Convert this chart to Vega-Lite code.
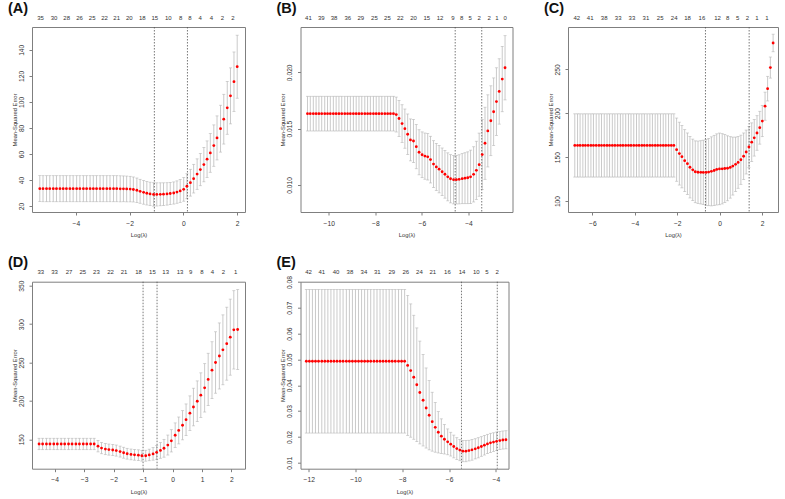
{
  "$schema": "https://vega.github.io/schema/vega-lite/v6.json",
  "background": "white",
  "padding": {"left": 7, "top": 0, "right": 0, "bottom": 0},
  "autosize": {"type": "pad"},
  "config": {
    "font": "Liberation Sans",
    "view": {"stroke": "#7f7f7f", "strokeWidth": 1},
    "axis": {"grid": false, "domain": false, "tickColor": "#7f7f7f", "tickSize": 3, "tickWidth": 1, "labelFontSize": 6.7, "labelColor": "#333333", "titleFontSize": 5.8, "titleFontWeight": "normal", "titleColor": "#333333", "labelOverlap": false, "labelFlush": false},
    "axisX": {"labelPadding": 5, "titlePadding": 5},
    "axisY": {"labelAngle": 270, "labelAlign": "center", "labelBaseline": "bottom", "labelPadding": 5, "titlePadding": 1},
    "title": {"fontSize": 14.5, "fontWeight": "bold", "anchor": "start", "frame": "bounds", "color": "#111111", "offset": -2, "dx": -3}
  },
  "datasets": {
    "A": [
      {"x":-5.34,"m":33.3,"s":10},{"x":-5.22,"m":33.3,"s":10},{"x":-5.09,"m":33.3,"s":10},{"x":-4.97,"m":33.3,"s":10},{"x":-4.84,"m":33.3,"s":10},{"x":-4.72,"m":33.3,"s":10},{"x":-4.59,"m":33.3,"s":10},{"x":-4.47,"m":33.3,"s":10},{"x":-4.35,"m":33.3,"s":10},{"x":-4.22,"m":33.3,"s":10},{"x":-4.10,"m":33.3,"s":10},{"x":-3.97,"m":33.3,"s":10},{"x":-3.85,"m":33.3,"s":10},{"x":-3.72,"m":33.3,"s":10},{"x":-3.60,"m":33.3,"s":10},{"x":-3.47,"m":33.3,"s":10},{"x":-3.35,"m":33.3,"s":10},{"x":-3.23,"m":33.3,"s":10},{"x":-3.10,"m":33.3,"s":10},{"x":-2.98,"m":33.3,"s":10},{"x":-2.85,"m":33.3,"s":10},{"x":-2.73,"m":33.3,"s":10},{"x":-2.60,"m":33.3,"s":10},{"x":-2.48,"m":33.3,"s":10},
      {"x":-2.35,"m":33.2,"s":10},{"x":-2.23,"m":33.2,"s":9.9},{"x":-2.11,"m":33.1,"s":9.9},{"x":-1.98,"m":33.0,"s":9.8},{"x":-1.86,"m":32.7,"s":9.6},{"x":-1.73,"m":32.1,"s":9.4},{"x":-1.61,"m":31.3,"s":9.2},{"x":-1.48,"m":30.5,"s":9.1},{"x":-1.36,"m":29.8,"s":9.0},{"x":-1.24,"m":29.3,"s":9.0},{"x":-1.11,"m":28.9,"s":9.0},{"x":-0.99,"m":28.9,"s":8.9},{"x":-0.86,"m":29.0,"s":8.8},{"x":-0.74,"m":29.1,"s":8.7},{"x":-0.61,"m":29.3,"s":8.6},{"x":-0.49,"m":29.6,"s":8.5},{"x":-0.36,"m":30.0,"s":8.5},{"x":-0.24,"m":30.7,"s":8.6},{"x":-0.12,"m":31.6,"s":8.8},{"x":0.01,"m":32.8,"s":9.1},
      {"x":0.13,"m":35.2,"s":9.6},{"x":0.26,"m":37.9,"s":10.3},{"x":0.38,"m":41.0,"s":11.0},{"x":0.51,"m":44.5,"s":11.7},{"x":0.63,"m":48.0,"s":12.4},{"x":0.76,"m":51.8,"s":13.2},{"x":0.88,"m":56.0,"s":14.0},{"x":1.00,"m":60.8,"s":14.9},{"x":1.13,"m":66.4,"s":15.9},{"x":1.25,"m":72.3,"s":16.9},{"x":1.38,"m":79.4,"s":18.0},{"x":1.50,"m":86.7,"s":19.1},{"x":1.63,"m":95.4,"s":20.3},{"x":1.75,"m":104.6,"s":21.5},{"x":1.88,"m":115.5,"s":22.8},{"x":2.00,"m":127.0,"s":24.2}
    ],
    "B": [
      {"x":-10.91,"m":0.01633,"s":0.00154},{"x":-10.79,"m":0.01633,"s":0.00154},{"x":-10.66,"m":0.01633,"s":0.00154},{"x":-10.54,"m":0.01633,"s":0.00154},{"x":-10.42,"m":0.01633,"s":0.00154},{"x":-10.30,"m":0.01633,"s":0.00154},{"x":-10.17,"m":0.01633,"s":0.00154},{"x":-10.05,"m":0.01633,"s":0.00154},{"x":-9.93,"m":0.01633,"s":0.00154},{"x":-9.80,"m":0.01633,"s":0.00154},{"x":-9.68,"m":0.01633,"s":0.00154},{"x":-9.56,"m":0.01633,"s":0.00154},{"x":-9.44,"m":0.01633,"s":0.00154},{"x":-9.31,"m":0.01633,"s":0.00154},{"x":-9.19,"m":0.01633,"s":0.00154},{"x":-9.07,"m":0.01633,"s":0.00154},{"x":-8.94,"m":0.01633,"s":0.00154},{"x":-8.82,"m":0.01633,"s":0.00154},{"x":-8.70,"m":0.01633,"s":0.00154},{"x":-8.58,"m":0.01633,"s":0.00154},{"x":-8.45,"m":0.01633,"s":0.00154},{"x":-8.33,"m":0.01633,"s":0.00154},{"x":-8.21,"m":0.01633,"s":0.00154},{"x":-8.08,"m":0.01633,"s":0.00154},{"x":-7.96,"m":0.01633,"s":0.00154},{"x":-7.84,"m":0.01633,"s":0.00154},{"x":-7.72,"m":0.01633,"s":0.00154},{"x":-7.59,"m":0.01633,"s":0.00154},{"x":-7.47,"m":0.01633,"s":0.00154},{"x":-7.35,"m":0.01633,"s":0.00154},{"x":-7.22,"m":0.01633,"s":0.00154},
      {"x":-7.10,"m":0.01625,"s":0.00155},{"x":-6.98,"m":0.01590,"s":0.00160},{"x":-6.85,"m":0.01545,"s":0.00167},{"x":-6.73,"m":0.01500,"s":0.00174},{"x":-6.61,"m":0.01450,"s":0.00180},{"x":-6.49,"m":0.01400,"s":0.00186},{"x":-6.36,"m":0.01390,"s":0.00191},{"x":-6.24,"m":0.01340,"s":0.00196},{"x":-6.12,"m":0.01290,"s":0.00200},{"x":-5.99,"m":0.01268,"s":0.00203},{"x":-5.87,"m":0.01256,"s":0.00205},{"x":-5.75,"m":0.01250,"s":0.00206},{"x":-5.63,"m":0.01225,"s":0.00207},{"x":-5.50,"m":0.01185,"s":0.00208},{"x":-5.38,"m":0.01160,"s":0.00209},{"x":-5.26,"m":0.01140,"s":0.00210},{"x":-5.13,"m":0.01117,"s":0.00211},{"x":-5.01,"m":0.01095,"s":0.00212},{"x":-4.89,"m":0.01072,"s":0.00213},{"x":-4.77,"m":0.01055,"s":0.00214},{"x":-4.64,"m":0.01047,"s":0.00215},{"x":-4.52,"m":0.01047,"s":0.00215},{"x":-4.40,"m":0.01050,"s":0.00218},{"x":-4.27,"m":0.01056,"s":0.00222},{"x":-4.15,"m":0.01060,"s":0.00226},{"x":-4.03,"m":0.01064,"s":0.00230},{"x":-3.91,"m":0.01072,"s":0.00237},{"x":-3.78,"m":0.01094,"s":0.00245},{"x":-3.66,"m":0.01130,"s":0.00258},{"x":-3.54,"m":0.01180,"s":0.00280},{"x":-3.41,"m":0.01270,"s":0.00310},{"x":-3.29,"m":0.01370,"s":0.00320},{"x":-3.17,"m":0.01480,"s":0.00320},{"x":-3.04,"m":0.01570,"s":0.00310},{"x":-2.92,"m":0.01650,"s":0.00300},{"x":-2.80,"m":0.01740,"s":0.00300},{"x":-2.68,"m":0.01830,"s":0.00290},{"x":-2.55,"m":0.01940,"s":0.00290},{"x":-2.43,"m":0.02040,"s":0.00285}
    ],
    "C": [
      {"x":-6.83,"m":163.3,"s":36},{"x":-6.70,"m":163.3,"s":36},{"x":-6.58,"m":163.3,"s":36},{"x":-6.45,"m":163.3,"s":36},{"x":-6.33,"m":163.3,"s":36},{"x":-6.20,"m":163.3,"s":36},{"x":-6.07,"m":163.3,"s":36},{"x":-5.95,"m":163.3,"s":36},{"x":-5.82,"m":163.3,"s":36},{"x":-5.69,"m":163.3,"s":36},{"x":-5.57,"m":163.3,"s":36},{"x":-5.44,"m":163.3,"s":36},{"x":-5.31,"m":163.3,"s":36},{"x":-5.19,"m":163.3,"s":36},{"x":-5.06,"m":163.3,"s":36},{"x":-4.94,"m":163.3,"s":36},{"x":-4.81,"m":163.3,"s":36},{"x":-4.68,"m":163.3,"s":36},{"x":-4.56,"m":163.3,"s":36},{"x":-4.43,"m":163.3,"s":36},{"x":-4.30,"m":163.3,"s":36},{"x":-4.18,"m":163.3,"s":36},{"x":-4.05,"m":163.3,"s":36},{"x":-3.92,"m":163.3,"s":36},{"x":-3.80,"m":163.3,"s":36},{"x":-3.67,"m":163.3,"s":36},{"x":-3.55,"m":163.3,"s":36},{"x":-3.42,"m":163.3,"s":36},{"x":-3.29,"m":163.3,"s":36},{"x":-3.17,"m":163.3,"s":36},{"x":-3.04,"m":163.3,"s":36},{"x":-2.92,"m":163.3,"s":36},{"x":-2.79,"m":163.3,"s":36},{"x":-2.66,"m":163.3,"s":36},{"x":-2.54,"m":163.3,"s":36},{"x":-2.41,"m":163.3,"s":36},{"x":-2.28,"m":163.3,"s":36},{"x":-2.16,"m":163.3,"s":36},
      {"x":-2.03,"m":158.5,"s":36},{"x":-1.90,"m":154.0,"s":35.8},{"x":-1.78,"m":150.5,"s":35.5},{"x":-1.65,"m":146.0,"s":35.3},{"x":-1.52,"m":142.5,"s":35},{"x":-1.40,"m":138.5,"s":35},{"x":-1.27,"m":135.5,"s":35},{"x":-1.15,"m":133.3,"s":35.2},{"x":-1.02,"m":132.8,"s":35.5},{"x":-0.89,"m":132.7,"s":36},{"x":-0.77,"m":132.6,"s":36.7},{"x":-0.64,"m":132.6,"s":37.5},{"x":-0.52,"m":133.0,"s":38.3},{"x":-0.39,"m":133.8,"s":39.3},{"x":-0.26,"m":134.8,"s":40},{"x":-0.14,"m":136.0,"s":40.5},{"x":-0.01,"m":136.6,"s":40.8},{"x":0.12,"m":136.7,"s":40},{"x":0.24,"m":137.0,"s":38.7},{"x":0.37,"m":137.3,"s":37},{"x":0.50,"m":138.3,"s":35},{"x":0.62,"m":139.8,"s":33},{"x":0.75,"m":141.8,"s":31},{"x":0.87,"m":144.0,"s":29.5},{"x":1.00,"m":147.0,"s":28},{"x":1.13,"m":151.0,"s":26.5},{"x":1.25,"m":155.8,"s":25},{"x":1.38,"m":161.5,"s":23.5},{"x":1.51,"m":167.0,"s":22},{"x":1.63,"m":172.0,"s":20.8},{"x":1.76,"m":177.5,"s":19.7},{"x":1.89,"m":183.5,"s":18.7},{"x":2.01,"m":191.0,"s":17.7},{"x":2.14,"m":208.0,"s":16},{"x":2.26,"m":228.0,"s":14},{"x":2.39,"m":252.0,"s":12},{"x":2.52,"m":280.0,"s":10}
    ],
    "D": [
      {"x":-4.53,"m":143.9,"s":7.4},{"x":-4.41,"m":143.9,"s":7.4},{"x":-4.28,"m":143.9,"s":7.4},{"x":-4.16,"m":143.9,"s":7.4},{"x":-4.03,"m":143.9,"s":7.4},{"x":-3.91,"m":143.9,"s":7.4},{"x":-3.78,"m":143.9,"s":7.4},{"x":-3.66,"m":143.9,"s":7.4},{"x":-3.53,"m":143.9,"s":7.4},{"x":-3.41,"m":143.9,"s":7.4},{"x":-3.28,"m":143.9,"s":7.4},{"x":-3.16,"m":143.9,"s":7.4},{"x":-3.03,"m":143.9,"s":7.4},{"x":-2.91,"m":143.9,"s":7.4},{"x":-2.78,"m":143.9,"s":7.4},{"x":-2.66,"m":143.9,"s":7.4},
      {"x":-2.53,"m":141.0,"s":7.4},{"x":-2.41,"m":138.5,"s":7.3},{"x":-2.28,"m":137.3,"s":7.3},{"x":-2.16,"m":136.6,"s":7.2},{"x":-2.03,"m":136.0,"s":7.2},{"x":-1.91,"m":135.3,"s":7.2},{"x":-1.78,"m":134.0,"s":7.1},{"x":-1.66,"m":132.5,"s":7.1},{"x":-1.54,"m":131.2,"s":7.0},{"x":-1.41,"m":130.3,"s":7.0},{"x":-1.29,"m":129.8,"s":7.0},{"x":-1.16,"m":129.3,"s":7.0},{"x":-1.04,"m":128.6,"s":7.0},{"x":-0.91,"m":128.6,"s":7.1},{"x":-0.79,"m":129.6,"s":7.5},{"x":-0.66,"m":131.0,"s":8.2},{"x":-0.54,"m":133.0,"s":9.0},{"x":-0.41,"m":135.5,"s":10.2},{"x":-0.29,"m":138.3,"s":11.6},{"x":-0.16,"m":142.5,"s":13.0},{"x":-0.04,"m":148.0,"s":14.5},{"x":0.09,"m":155.3,"s":16.0},{"x":0.21,"m":161.5,"s":17.5},{"x":0.34,"m":168.3,"s":19.0},{"x":0.46,"m":175.5,"s":20.5},{"x":0.59,"m":184.0,"s":22.5},{"x":0.71,"m":192.0,"s":24.5},{"x":0.84,"m":199.5,"s":26.5},{"x":0.96,"m":207.5,"s":29.0},{"x":1.09,"m":217.0,"s":31.5},{"x":1.21,"m":228.0,"s":34.0},{"x":1.34,"m":240.0,"s":37.0},{"x":1.46,"m":250.0,"s":40.0},{"x":1.59,"m":258.5,"s":43.0},{"x":1.71,"m":266.5,"s":45.5},{"x":1.84,"m":274.5,"s":47.5},{"x":1.96,"m":283.0,"s":49.5},{"x":2.08,"m":292.5,"s":51.0},{"x":2.21,"m":293.0,"s":52.0}
    ],
    "E": [
      {"x":-12.10,"m":0.0493,"s":0.0278},{"x":-11.97,"m":0.0493,"s":0.0278},{"x":-11.84,"m":0.0493,"s":0.0278},{"x":-11.71,"m":0.0493,"s":0.0278},{"x":-11.58,"m":0.0493,"s":0.0278},{"x":-11.44,"m":0.0493,"s":0.0278},{"x":-11.31,"m":0.0493,"s":0.0278},{"x":-11.18,"m":0.0493,"s":0.0278},{"x":-11.05,"m":0.0493,"s":0.0278},{"x":-10.92,"m":0.0493,"s":0.0278},{"x":-10.79,"m":0.0493,"s":0.0278},{"x":-10.66,"m":0.0493,"s":0.0278},{"x":-10.53,"m":0.0493,"s":0.0278},{"x":-10.39,"m":0.0493,"s":0.0278},{"x":-10.26,"m":0.0493,"s":0.0278},{"x":-10.13,"m":0.0493,"s":0.0278},{"x":-10.00,"m":0.0493,"s":0.0278},{"x":-9.87,"m":0.0493,"s":0.0278},{"x":-9.74,"m":0.0493,"s":0.0278},{"x":-9.61,"m":0.0493,"s":0.0278},{"x":-9.48,"m":0.0493,"s":0.0278},{"x":-9.35,"m":0.0493,"s":0.0278},{"x":-9.21,"m":0.0493,"s":0.0278},{"x":-9.08,"m":0.0493,"s":0.0278},{"x":-8.95,"m":0.0493,"s":0.0278},{"x":-8.82,"m":0.0493,"s":0.0278},{"x":-8.69,"m":0.0493,"s":0.0278},{"x":-8.56,"m":0.0493,"s":0.0278},{"x":-8.43,"m":0.0493,"s":0.0278},{"x":-8.30,"m":0.0493,"s":0.0278},{"x":-8.16,"m":0.0493,"s":0.0278},{"x":-8.03,"m":0.0493,"s":0.0278},{"x":-7.90,"m":0.0493,"s":0.0278},
      {"x":-7.77,"m":0.0477,"s":0.0271},{"x":-7.64,"m":0.0457,"s":0.0258},{"x":-7.51,"m":0.0431,"s":0.0240},{"x":-7.38,"m":0.0402,"s":0.0220},{"x":-7.25,"m":0.0372,"s":0.0199},{"x":-7.11,"m":0.0342,"s":0.0177},{"x":-6.98,"m":0.0312,"s":0.0155},{"x":-6.85,"m":0.0284,"s":0.0134},{"x":-6.72,"m":0.0259,"s":0.0114},{"x":-6.59,"m":0.0237,"s":0.0096},{"x":-6.46,"m":0.0218,"s":0.0080},{"x":-6.33,"m":0.0203,"s":0.0067},{"x":-6.20,"m":0.0191,"s":0.0057},{"x":-6.06,"m":0.0181,"s":0.0050},{"x":-5.93,"m":0.0172,"s":0.0046},{"x":-5.80,"m":0.0163,"s":0.0044},{"x":-5.67,"m":0.0155,"s":0.0042},{"x":-5.54,"m":0.0149,"s":0.0041},{"x":-5.41,"m":0.0145,"s":0.0041},{"x":-5.28,"m":0.0145,"s":0.0041},{"x":-5.15,"m":0.0147,"s":0.0040},{"x":-5.02,"m":0.0150,"s":0.0040},{"x":-4.88,"m":0.0154,"s":0.0039},{"x":-4.75,"m":0.0158,"s":0.0039},{"x":-4.62,"m":0.0163,"s":0.0038},{"x":-4.49,"m":0.0168,"s":0.0038},{"x":-4.36,"m":0.0173,"s":0.0037},{"x":-4.23,"m":0.0177,"s":0.0037},{"x":-4.10,"m":0.0180,"s":0.0036},{"x":-3.97,"m":0.0183,"s":0.0036},{"x":-3.83,"m":0.0186,"s":0.0035},{"x":-3.70,"m":0.0188,"s":0.0035},{"x":-3.57,"m":0.0189,"s":0.0035}
    ],
    "topA": [{"x":-5.33,"nz":"35"},{"x":-4.83,"nz":"30"},{"x":-4.36,"nz":"28"},{"x":-3.88,"nz":"26"},{"x":-3.41,"nz":"25"},{"x":-2.95,"nz":"22"},{"x":-2.50,"nz":"21"},{"x":-2.03,"nz":"20"},{"x":-1.55,"nz":"18"},{"x":-1.08,"nz":"15"},{"x":-0.58,"nz":"10"},{"x":-0.12,"nz":"8"},{"x":0.22,"nz":"8"},{"x":0.60,"nz":"4"},{"x":1.02,"nz":"4"},{"x":1.43,"nz":"2"},{"x":1.82,"nz":"2"}],
    "topB": [{"x":-10.89,"nz":"41"},{"x":-10.34,"nz":"39"},{"x":-9.79,"nz":"38"},{"x":-9.20,"nz":"36"},{"x":-8.64,"nz":"29"},{"x":-8.06,"nz":"25"},{"x":-7.50,"nz":"25"},{"x":-6.95,"nz":"22"},{"x":-6.38,"nz":"20"},{"x":-5.81,"nz":"15"},{"x":-5.24,"nz":"12"},{"x":-4.69,"nz":"9"},{"x":-4.31,"nz":"8"},{"x":-3.95,"nz":"5"},{"x":-3.56,"nz":"2"},{"x":-3.13,"nz":"2"},{"x":-2.80,"nz":"1"},{"x":-2.45,"nz":"0"}],
    "topC": [{"x":-6.76,"nz":"42"},{"x":-6.13,"nz":"41"},{"x":-5.47,"nz":"38"},{"x":-4.81,"nz":"33"},{"x":-4.16,"nz":"33"},{"x":-3.50,"nz":"31"},{"x":-2.83,"nz":"25"},{"x":-2.17,"nz":"24"},{"x":-1.54,"nz":"18"},{"x":-0.86,"nz":"16"},{"x":-0.12,"nz":"12"},{"x":0.35,"nz":"8"},{"x":0.82,"nz":"5"},{"x":1.29,"nz":"2"},{"x":1.73,"nz":"1"},{"x":2.20,"nz":"1"}],
    "topD": [{"x":-4.49,"nz":"33"},{"x":-4.02,"nz":"33"},{"x":-3.53,"nz":"27"},{"x":-3.06,"nz":"25"},{"x":-2.60,"nz":"23"},{"x":-2.12,"nz":"22"},{"x":-1.66,"nz":"21"},{"x":-1.17,"nz":"18"},{"x":-0.70,"nz":"15"},{"x":-0.25,"nz":"13"},{"x":0.24,"nz":"13"},{"x":0.60,"nz":"9"},{"x":0.98,"nz":"8"},{"x":1.34,"nz":"4"},{"x":1.71,"nz":"2"},{"x":2.13,"nz":"1"}],
    "topE": [{"x":-12.03,"nz":"42"},{"x":-11.46,"nz":"41"},{"x":-10.85,"nz":"40"},{"x":-10.26,"nz":"38"},{"x":-9.66,"nz":"34"},{"x":-9.09,"nz":"31"},{"x":-8.47,"nz":"29"},{"x":-7.87,"nz":"26"},{"x":-7.29,"nz":"24"},{"x":-6.72,"nz":"21"},{"x":-6.09,"nz":"16"},{"x":-5.47,"nz":"14"},{"x":-4.86,"nz":"10"},{"x":-4.40,"nz":"5"},{"x":-3.97,"nz":"2"}]
  },
  "concat": [
    {
      "title": {"text": "(A)"},
      "width": 213, "height": 185,
      "data": {"name": "A"},
      "layer": [
        {"mark": {"type": "errorbar", "color": "#b3b3b3", "ticks": {"size": 3, "thickness": 0.8}, "rule": {"strokeWidth": 0.7}},
         "encoding": {
           "x": {"field": "x", "type": "quantitative", "scale": {"domain": [-5.63, 2.29], "nice": false, "zero": false}, "axis": {"orient": "bottom", "values": [-4, -2, 0, 2], "title": "Log(λ)"}},
           "y": {"field": "m", "type": "quantitative", "scale": {"domain": [15.4, 157.5], "nice": false, "zero": false}, "axis": {"orient": "left", "values": [20, 40, 60, 80, 100, 120, 140], "title": "Mean-Squared Error"}},
           "yError": {"field": "s"}}},
        {"data": {"values": [{"v": -1.08}, {"v": 0.15}]}, "mark": {"type": "rule", "color": "#555555", "strokeWidth": 0.8, "strokeDash": [1.5, 1.5]},
         "encoding": {"x": {"field": "v", "type": "quantitative", "axis": null}}},
        {"mark": {"type": "circle", "color": "#ff0000", "size": 8, "opacity": 1},
         "encoding": {"x": {"field": "x", "type": "quantitative", "axis": null}, "y": {"field": "m", "type": "quantitative", "axis": {"orient": "left", "values": [20, 40, 60, 80, 100, 120, 140], "title": "Mean-Squared Error"}}}},
        {"data": {"name": "topA"}, "mark": {"type": "point", "opacity": 0},
         "encoding": {"x": {"field": "x", "type": "quantitative", "axis": {"orient": "top", "values": {"expr": "pluck(data('topA'),'x')"}, "labelExpr": "pluck(data('topA'),'nz')[indexof(pluck(data('topA'),'x'), datum.value)]", "ticks": false, "labelPadding": 7, "labelFontSize": 6, "title": null}}}}
      ]
    },
    {
      "title": {"text": "(B)"},
      "width": 212, "height": 185,
      "data": {"name": "B"},
      "layer": [
        {"mark": {"type": "errorbar", "color": "#b3b3b3", "ticks": {"size": 3, "thickness": 0.8}, "rule": {"strokeWidth": 0.7}},
         "encoding": {
           "x": {"field": "x", "type": "quantitative", "scale": {"domain": [-11.21, -2.11], "nice": false, "zero": false}, "axis": {"orient": "bottom", "values": [-10, -8, -6, -4], "title": "Log(λ)"}},
           "y": {"field": "m", "type": "quantitative", "scale": {"domain": [0.0076, 0.02402], "nice": false, "zero": false}, "axis": {"orient": "left", "values": [0.010, 0.015, 0.020], "format": ".3f", "title": "Mean-Squared Error"}},
           "yError": {"field": "s"}}},
        {"data": {"values": [{"v": -4.57}, {"v": -3.43}]}, "mark": {"type": "rule", "color": "#555555", "strokeWidth": 0.8, "strokeDash": [1.5, 1.5]},
         "encoding": {"x": {"field": "v", "type": "quantitative", "axis": null}}},
        {"mark": {"type": "circle", "color": "#ff0000", "size": 8, "opacity": 1},
         "encoding": {"x": {"field": "x", "type": "quantitative", "axis": null}, "y": {"field": "m", "type": "quantitative", "axis": {"orient": "left", "values": [0.010, 0.015, 0.020], "format": ".3f", "title": "Mean-Squared Error"}}}},
        {"data": {"name": "topB"}, "mark": {"type": "point", "opacity": 0},
         "encoding": {"x": {"field": "x", "type": "quantitative", "axis": {"orient": "top", "values": {"expr": "pluck(data('topB'),'x')"}, "labelExpr": "pluck(data('topB'),'nz')[indexof(pluck(data('topB'),'x'), datum.value)]", "ticks": false, "labelPadding": 7, "labelFontSize": 6, "title": null}}}}
      ]
    },
    {
      "title": {"text": "(C)"},
      "width": 210, "height": 185,
      "data": {"name": "C"},
      "layer": [
        {"mark": {"type": "errorbar", "color": "#b3b3b3", "ticks": {"size": 3, "thickness": 0.8}, "rule": {"strokeWidth": 0.7}},
         "encoding": {
           "x": {"field": "x", "type": "quantitative", "scale": {"domain": [-7.15, 2.75], "nice": false, "zero": false}, "axis": {"orient": "bottom", "values": [-6, -4, -2, 0, 2], "title": "Log(λ)"}},
           "y": {"field": "m", "type": "quantitative", "scale": {"domain": [87.5, 298.2], "nice": false, "zero": false}, "axis": {"orient": "left", "values": [100, 150, 200, 250], "title": "Mean-Squared Error"}},
           "yError": {"field": "s"}}},
        {"data": {"values": [{"v": -0.67}, {"v": 1.39}]}, "mark": {"type": "rule", "color": "#555555", "strokeWidth": 0.8, "strokeDash": [1.5, 1.5]},
         "encoding": {"x": {"field": "v", "type": "quantitative", "axis": null}}},
        {"mark": {"type": "circle", "color": "#ff0000", "size": 8, "opacity": 1},
         "encoding": {"x": {"field": "x", "type": "quantitative", "axis": null}, "y": {"field": "m", "type": "quantitative", "axis": {"orient": "left", "values": [100, 150, 200, 250], "title": "Mean-Squared Error"}}}},
        {"data": {"name": "topC"}, "mark": {"type": "point", "opacity": 0},
         "encoding": {"x": {"field": "x", "type": "quantitative", "axis": {"orient": "top", "values": {"expr": "pluck(data('topC'),'x')"}, "labelExpr": "pluck(data('topC'),'nz')[indexof(pluck(data('topC'),'x'), datum.value)]", "ticks": false, "labelPadding": 7, "labelFontSize": 6, "title": null}}}}
      ]
    },
    {
      "title": {"text": "(D)"},
      "width": 213, "height": 187,
      "data": {"name": "D"},
      "layer": [
        {"mark": {"type": "errorbar", "color": "#b3b3b3", "ticks": {"size": 3, "thickness": 0.8}, "rule": {"strokeWidth": 0.7}},
         "encoding": {
           "x": {"field": "x", "type": "quantitative", "scale": {"domain": [-4.77, 2.46], "nice": false, "zero": false}, "axis": {"orient": "bottom", "values": [-4, -3, -2, -1, 0, 1, 2], "title": "Log(λ)"}},
           "y": {"field": "m", "type": "quantitative", "scale": {"domain": [111.7, 355.2], "nice": false, "zero": false}, "axis": {"orient": "left", "values": [150, 200, 250, 300, 350], "title": "Mean-Squared Error"}},
           "yError": {"field": "s"}}},
        {"data": {"values": [{"v": -1.0}, {"v": -0.525}]}, "mark": {"type": "rule", "color": "#555555", "strokeWidth": 0.8, "strokeDash": [1.5, 1.5]},
         "encoding": {"x": {"field": "v", "type": "quantitative", "axis": null}}},
        {"mark": {"type": "circle", "color": "#ff0000", "size": 8, "opacity": 1},
         "encoding": {"x": {"field": "x", "type": "quantitative", "axis": null}, "y": {"field": "m", "type": "quantitative", "axis": {"orient": "left", "values": [150, 200, 250, 300, 350], "title": "Mean-Squared Error"}}}},
        {"data": {"name": "topD"}, "mark": {"type": "point", "opacity": 0},
         "encoding": {"x": {"field": "x", "type": "quantitative", "axis": {"orient": "top", "values": {"expr": "pluck(data('topD'),'x')"}, "labelExpr": "pluck(data('topD'),'nz')[indexof(pluck(data('topD'),'x'), datum.value)]", "ticks": false, "labelPadding": 7, "labelFontSize": 6, "title": null}}}}
      ]
    },
    {
      "title": {"text": "(E)"},
      "width": 208, "height": 187,
      "data": {"name": "E"},
      "layer": [
        {"mark": {"type": "errorbar", "color": "#b3b3b3", "ticks": {"size": 3, "thickness": 0.8}, "rule": {"strokeWidth": 0.7}},
         "encoding": {
           "x": {"field": "x", "type": "quantitative", "scale": {"domain": [-12.35, -3.46], "nice": false, "zero": false}, "axis": {"orient": "bottom", "values": [-12, -10, -8, -6, -4], "title": "Log(λ)"}},
           "y": {"field": "m", "type": "quantitative", "scale": {"domain": [0.0077, 0.0801], "nice": false, "zero": false}, "axis": {"orient": "left", "values": [0.01, 0.02, 0.03, 0.04, 0.05, 0.06, 0.07, 0.08], "format": ".2f", "title": "Mean-Squared Error"}},
           "yError": {"field": "s"}}},
        {"data": {"values": [{"v": -5.47}, {"v": -3.94}]}, "mark": {"type": "rule", "color": "#555555", "strokeWidth": 0.8, "strokeDash": [1.5, 1.5]},
         "encoding": {"x": {"field": "v", "type": "quantitative", "axis": null}}},
        {"mark": {"type": "circle", "color": "#ff0000", "size": 8, "opacity": 1},
         "encoding": {"x": {"field": "x", "type": "quantitative", "axis": null}, "y": {"field": "m", "type": "quantitative", "axis": {"orient": "left", "values": [0.01, 0.02, 0.03, 0.04, 0.05, 0.06, 0.07, 0.08], "format": ".2f", "title": "Mean-Squared Error"}}}},
        {"data": {"name": "topE"}, "mark": {"type": "point", "opacity": 0},
         "encoding": {"x": {"field": "x", "type": "quantitative", "axis": {"orient": "top", "values": {"expr": "pluck(data('topE'),'x')"}, "labelExpr": "pluck(data('topE'),'nz')[indexof(pluck(data('topE'),'x'), datum.value)]", "ticks": false, "labelPadding": 7, "labelFontSize": 6, "title": null}}}}
      ]
    }
  ],
  "columns": 3,
  "spacing": {"row": 69.7, "column": 55.5},
  "align": "each",
  "bounds": "flush"
}
